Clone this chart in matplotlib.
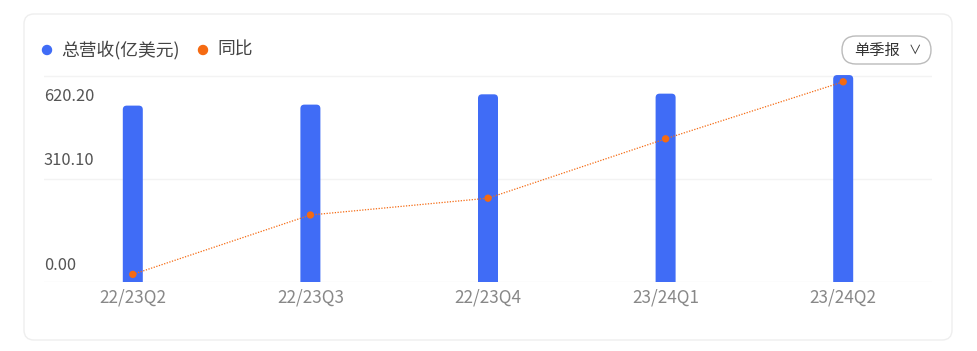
import matplotlib
matplotlib.use("Agg")
import matplotlib.pyplot as plt
from matplotlib.patches import FancyBboxPatch, Circle
from matplotlib.transforms import IdentityTransform, blended_transform_factory, offset_copy

plt.rcParams['font.family'] = ['Noto Sans CJK SC', 'DejaVu Sans']

# data
quarters = ['22/23Q2', '22/23Q3', '22/23Q4', '23/24Q1', '23/24Q2']
revenue = [531, 534, 565, 567, 623]          # 亿美元
yoy = [-7.4, 2.5, 5.3, 15.2, 24.7]           # 同比 %
ytick_vals = [0, 310.10, 620.20]
ytick_labels = ['0.00', '310.10', '620.20']

blue = '#406CF6'
orange = '#F56A12'

W, H = 977, 351
fig = plt.figure(figsize=(W / 100, H / 100), dpi=100)
fig.patch.set_facecolor('white')

# card outline
card = FancyBboxPatch((24, H - 340), 928, 326, boxstyle='round,pad=0,rounding_size=10',
                      transform=IdentityTransform(), facecolor='none', edgecolor='#eeeeee', lw=1)
fig.add_artist(card)

def px(x, y):
    return x / W, 1 - y / H

# axes: x 44..932, y bottom 282, top 69.4
ax = fig.add_axes([44 / W, (H - 282) / H, 888 / W, (282 - 69.4) / H])
ax.set_xlim(-0.5, 4.5)
ax.set_ylim(0, 640)
for s in ax.spines.values():
    s.set_visible(False)
ax.set_yticks([])
ax.set_xticks(range(len(quarters)))
ax.set_xticklabels(quarters, fontsize=12.3, color='#888888')
ax.tick_params(axis='x', length=0, pad=5)
ax.patch.set_alpha(0)

for v in ytick_vals:
    ax.axhline(v, color='#f3f3f3', lw=1, zorder=0)

# y labels (placed like the original, offset from gridlines)
bt = blended_transform_factory(ax.transAxes, ax.transData)
offs = [17, 18, -21]
for v, lab, o in zip(ytick_vals, ytick_labels, offs):
    tr = offset_copy(bt, fig=fig, x=0, y=o, units='dots')
    ax.text(0, v, lab, transform=tr, ha='left', va='center', fontsize=11.8, color='#555555')

# bars with rounded tops
bw = 20 / 177.6
r = 4 / 177.6
asp = (640 / 212.6) * 177.6
for i, v in enumerate(revenue):
    p = FancyBboxPatch((i - bw / 2, -30), bw, v + 30,
                       boxstyle='round,pad=0,rounding_size=%f' % r,
                       mutation_aspect=asp, facecolor=blue, edgecolor='none', zorder=2)
    ax.add_patch(p)

# yoy on twin axis
ax2 = ax.twinx()
ax2.set_ylim(-8.67, 26.77)
ax2.set_yticks([])
for s in ax2.spines.values():
    s.set_visible(False)
ax2.plot(range(len(yoy)), yoy, color=orange, lw=0.9, ls=(0, (1, 1.2)), zorder=3)
ax2.scatter(range(len(yoy)), yoy, s=28, color=orange, zorder=4, edgecolors='none')

# legend
fig.add_artist(Circle((47, H - 50), 4.5, transform=IdentityTransform(), color=blue))
fig.text(*px(61, 50), '总营收(亿美元)', fontsize=12.8, color='#444444', va='center', ha='left')
fig.add_artist(Circle((203, H - 50), 4.5, transform=IdentityTransform(), color=orange))
fig.text(*px(217, 50), '同比', fontsize=12.8, color='#444444', va='center', ha='left')

# button
btn = FancyBboxPatch((842, H - 64), 89, 28, boxstyle='round,pad=0,rounding_size=14',
                     transform=IdentityTransform(), facecolor='white', edgecolor='#bbbbbb', lw=1)
fig.add_artist(btn)
fig.text(*px(877, 50), '单季报', fontsize=11, color='#333333', va='center', ha='center')
fig.text(*px(915, 50), '∨', fontsize=9, color='#333333', va='center', ha='center')

fig.savefig('out.png', dpi=100)
